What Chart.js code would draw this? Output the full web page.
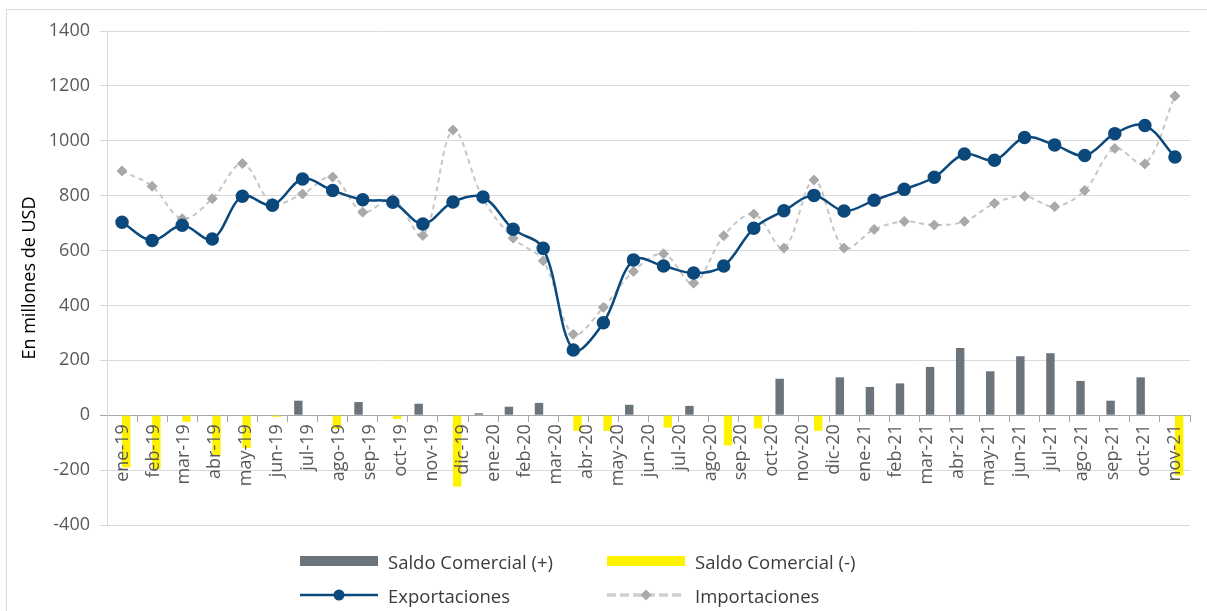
<!DOCTYPE html>
<html lang="es">
<head>
<meta charset="utf-8">
<title>Exportaciones, importaciones y saldo comercial</title>
<script src="https://cdn.jsdelivr.net/npm/chart.js@4.4.1/dist/chart.umd.min.js"></script>
<style>
  html, body { margin: 0; padding: 0; background: #fff; }
  body { width: 1207px; height: 611px; overflow: hidden; position: relative; font-family: 'Open Sans', sans-serif; }
  #marco { position: absolute; left: 6px; top: 9px; width: 1300px; height: 700px; border: 1px solid #d9d9d9; }
  #grafico { position: absolute; left: 0; top: 0; }
  .leyenda { position: absolute; display: flex; align-items: center; height: 26px; font-size: 18.5px; color: #3b3b3b; white-space: nowrap; }
  .leyenda svg { margin-right: 9px; }
</style>
</head>
<body>
<div id="marco"></div>
<canvas id="grafico" width="1207" height="611"></canvas>

<div class="leyenda" style="left:299px; top:548px;">
  <svg width="80" height="14"><rect x="1" y="2" width="78" height="10" fill="#6b737b"/></svg>Saldo Comercial (+)
</div>
<div class="leyenda" style="left:606px; top:548px;">
  <svg width="80" height="14"><rect x="1" y="2" width="78" height="10" fill="#fff200"/></svg>Saldo Comercial (-)
</div>
<div class="leyenda" style="left:299px; top:582px;">
  <svg width="80" height="14"><line x1="1" y1="7" x2="79" y2="7" stroke="#0b487b" stroke-width="2.5"/><circle cx="40" cy="7" r="5.5" fill="#0b487b"/></svg>Exportaciones
</div>
<div class="leyenda" style="left:606px; top:582px;">
  <svg width="80" height="14"><line x1="1" y1="7" x2="79" y2="7" stroke="#cfcfcf" stroke-width="3.5" stroke-dasharray="9 4"/><polygon points="40,1.5 45.5,7 40,12.5 34.5,7" fill="#a9a9a9"/></svg>Importaciones
</div>

<script>
// Etiquetas del eje tal como aparecen (35), aunque las series traen 36 meses
const MESES = [
  'ene-19', 'feb-19', 'mar-19', 'abr-19', 'may-19', 'jun-19', 'jul-19', 'ago-19', 'sep-19', 'oct-19', 'nov-19', 'dic-19',
  'ene-20', 'feb-20', 'mar-20', 'abr-20', 'may-20', 'jun-20', 'jul-20', 'ago-20', 'sep-20', 'oct-20', 'nov-20', 'dic-20',
  'ene-21', 'feb-21', 'mar-21', 'abr-21', 'may-21', 'jun-21', 'jul-21', 'ago-21', 'sep-21', 'oct-21', 'nov-21'
];

// En millones de USD
const EXPORTACIONES = [
  703, 637, 692, 642, 798, 765, 861, 819, 785, 776, 697, 777,
  795, 678, 608, 238, 337, 566, 544, 518, 544, 681, 745, 801,
  744, 783, 823, 867, 952, 929, 1012, 985, 946, 1026, 1056, 941
];
const IMPORTACIONES = [
  890, 834, 716, 789, 917, 773, 806, 868, 740, 788, 655, 1039,
  789, 645, 563, 295, 393, 524, 588, 481, 654, 733, 609, 857,
  609, 677, 706, 693, 706, 772, 798, 760, 819, 972, 916, 1163
];
const SALDO_POSITIVO = [
  null, null, null, null, null, null, 53, null, 48, null, 42, null,
  7, 31, 45, null, null, 38, null, 34, null, null, 133, null,
  138, 103, 116, 176, 245, 160, 215, 226, 125, 53, 138, null
];
const SALDO_NEGATIVO = [
  -190, -196, -24, -147, -119, -6, null, -50, null, -14, null, -260,
  null, null, null, -57, -57, null, -45, null, -110, -48, null, -57,
  null, null, null, null, null, null, null, null, null, null, null, -220
];

const Y_TICKS = { min: -400, max: 1400, step: 200 };

const AZUL = '#0b487b';
const GRIS_BARRA = '#6b737b';
const AMARILLO = '#fff200';
const GRIS_LINEA = '#c6c6c6';
const GRIS_ROMBO = '#a9a9a9';
const FUENTE = { family: "'Open Sans', sans-serif", size: 18 };

new Chart(document.getElementById('grafico'), {
  type: 'bar',
  data: {
    labels: EXPORTACIONES.map((_, i) => i),
    datasets: [
      {
        type: 'line',
        label: 'Exportaciones',
        data: EXPORTACIONES,
        xAxisID: 'x', yAxisID: 'y',
        borderColor: AZUL,
        backgroundColor: AZUL,
        borderWidth: 2.5,
        pointRadius: 5.5,
        pointHoverRadius: 5.5,
        tension: 0.35,
        order: 0,
      },
      {
        type: 'line',
        label: 'Importaciones',
        data: IMPORTACIONES,
        xAxisID: 'x', yAxisID: 'y',
        borderColor: GRIS_LINEA,
        borderDash: [5, 4],
        borderWidth: 2,
        pointStyle: 'rectRot',
        pointRadius: 5,
        pointHoverRadius: 5,
        pointBackgroundColor: GRIS_ROMBO,
        pointBorderColor: GRIS_ROMBO,
        pointBorderWidth: 1,
        tension: 0.35,
        order: 1,
      },
      {
        label: 'Saldo Comercial (+)',
        data: SALDO_POSITIVO,
        xAxisID: 'x', yAxisID: 'y',
        backgroundColor: GRIS_BARRA,
        categoryPercentage: 0.56,
        barPercentage: 1,
        order: 2,
      },
      {
        label: 'Saldo Comercial (-)',
        data: SALDO_NEGATIVO,
        xAxisID: 'x', yAxisID: 'y',
        backgroundColor: AMARILLO,
        categoryPercentage: 0.56,
        barPercentage: 1,
        order: 3,
      },
    ]
  },
  options: {
    responsive: false,
    animation: false,
    layout: { padding: { top: 31, right: 17, bottom: 86, left: 0 } },
    plugins: {
      legend: { display: false },
      tooltip: { enabled: false },
    },
    scales: {
      x: {
        type: 'category',
        position: { y: 0 },
        offset: true,
        ticks: { display: false, autoSkip: false },
        grid: { display: true, drawOnChartArea: false, drawTicks: true, tickLength: 6, color: '#a6a6a6', offset: true },
        border: { display: true, color: '#a6a6a6' },
        afterFit: s => { s.height = 0; },
      },
      x2: {
        type: 'category',
        labels: MESES,
        position: { y: 0 },
        offset: true,
        grid: { display: false },
        border: { display: false },
        ticks: { autoSkip: false, minRotation: 90, maxRotation: 90, padding: 1, color: '#595959', font: FUENTE, z: 1 },
        afterFit: s => { s.height = 0; },
      },
      y: {
        min: Y_TICKS.min,
        max: Y_TICKS.max,
        ticks: { stepSize: Y_TICKS.step, color: '#595959', font: FUENTE, padding: 10, callback: v => String(v) },
        grid: { color: c => c.tick && c.tick.value === 0 ? '#a6a6a6' : '#d9d9d9', tickLength: 7 },
        border: { color: '#d9d9d9' },
        title: { display: true, text: 'En millones de USD', color: '#000', font: FUENTE, padding: { top: 19 } },
        afterFit: s => { s.width = 107; },
      }
    }
  }
});
</script>
</body>
</html>
